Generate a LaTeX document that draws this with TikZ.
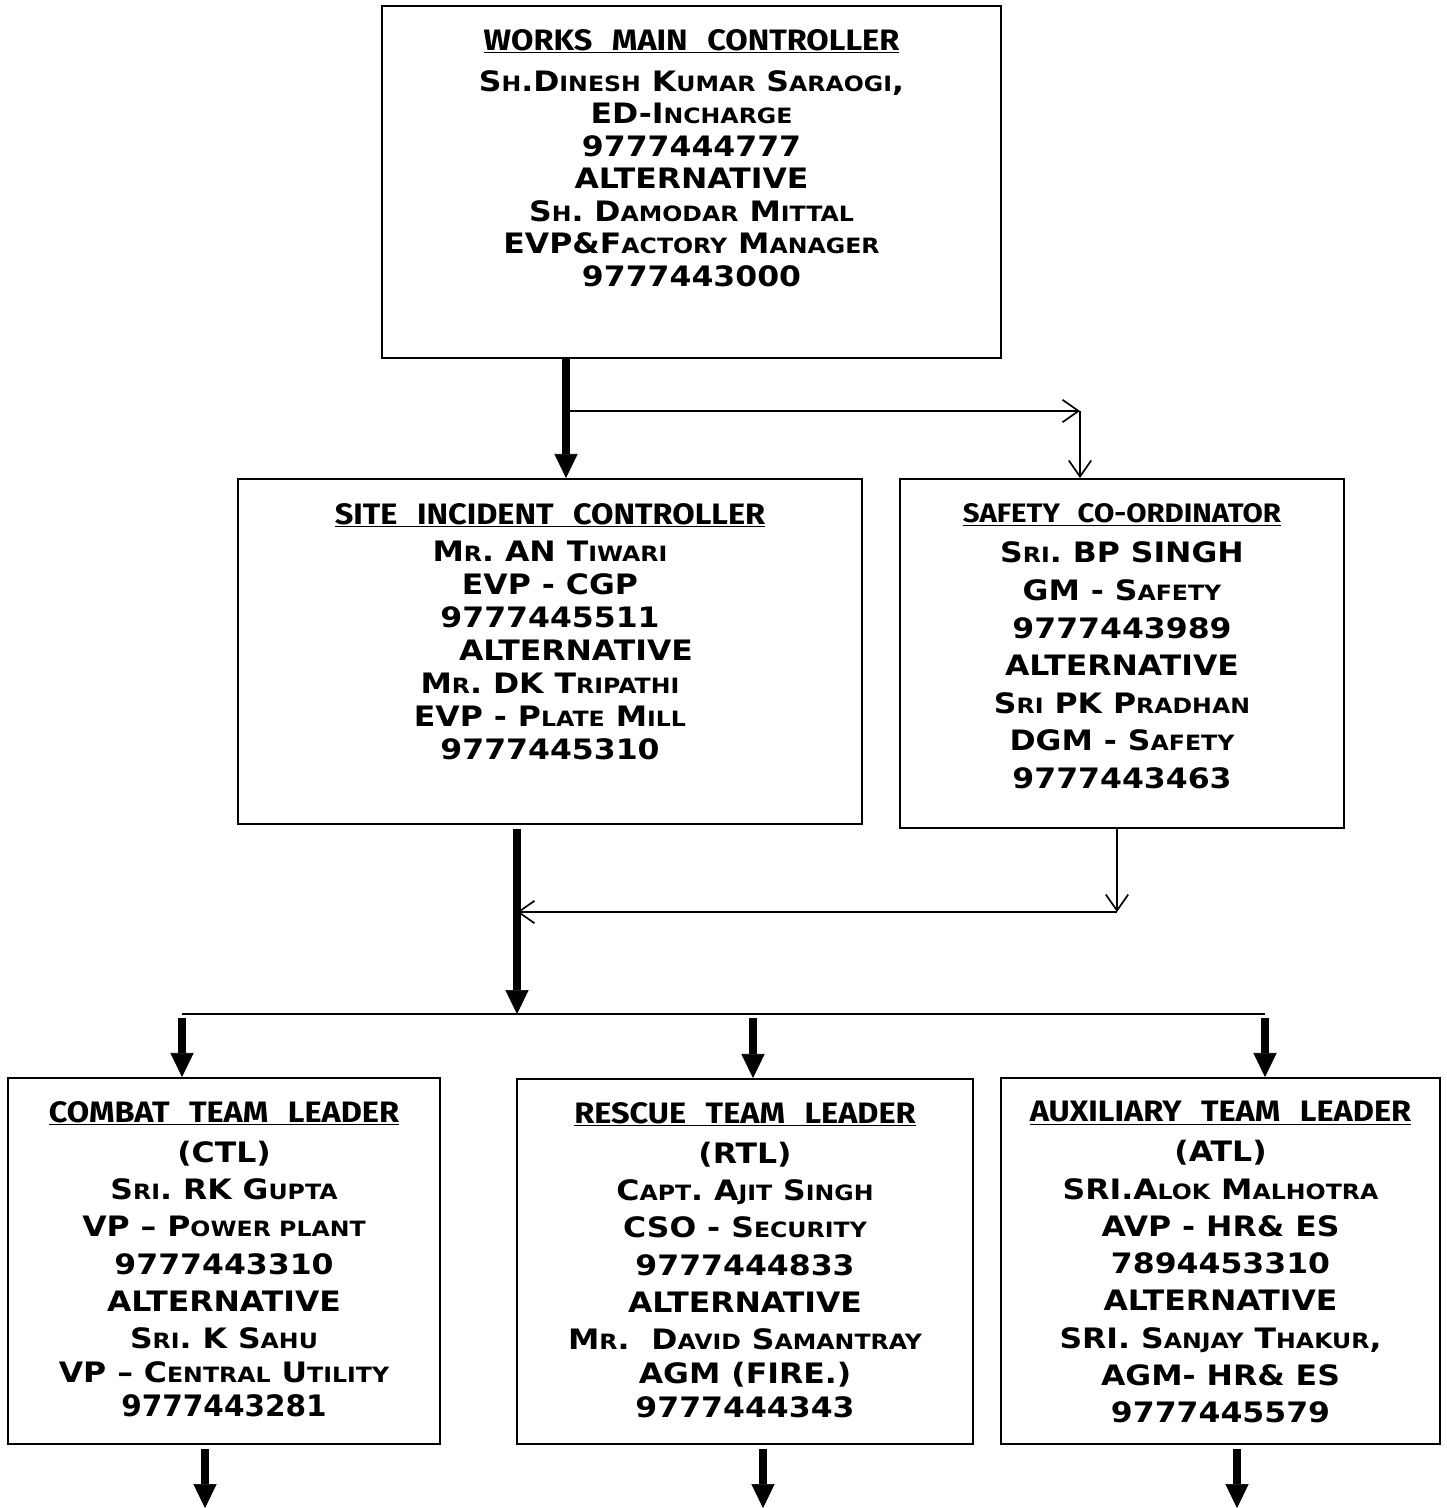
\documentclass[tikz,border=0pt]{standalone}
\usepackage{fontspec}
\setmainfont{DejaVu Sans}
\newfontfamily\copfont{DejaVu Sans}[FakeStretch=1.12]
\newfontfamily\plainfont{DejaVu Sans}
\newfontfamily\ttlfont{Fira Sans}[FakeStretch=1.1]
\usetikzlibrary{arrows.meta}
\usetikzlibrary{positioning}
\newcommand\smc[1]{{\fontsize{15}{18}\selectfont #1}}
\newcommand\phone[1]{{#1}}
\newcommand\ttl[2]{{\ttlfont\bfseries\fontsize{#1}{#1}\selectfont\underline{#2}}}

\begin{document}
\begin{tikzpicture}[x=0.025cm, y=-0.025cm,
  box/.style={draw, line width=1.4pt, inner sep=0pt},
  info/.style={align=center, inner sep=0pt, font=\copfont\bfseries\fontsize{20}{#1}\selectfont},
  bigarrow/.style={line width=0.2cm, -{Triangle[width=0.58cm, length=0.6cm, line width=0.4pt]}},
  smallarrow/.style={line width=1.2pt, -{Straight Barb[length=0.4cm, width=0.56cm, line width=1.2pt]}}]
  \useasboundingbox (0,0) rectangle (1447,1508);

  \node [box, minimum width=15.475cm, minimum height=8.8cm] (wmc) at (691.5,182) {};
  \node [box, minimum width=15.6cm, minimum height=8.625cm] (sic) at (550,651.5) {};
  \node [box, minimum width=11.1cm, minimum height=8.725cm] (sfc) at (1122,653.5) {};
  \node [box, minimum width=10.8cm, minimum height=9.15cm] (ctl) at (224,1261) {};
  \node [box, minimum width=11.4cm, minimum height=9.125cm] (rtl) at (745,1261.5) {};
  \node [box, minimum width=10.975cm, minimum height=9.15cm] (atl) at (1220.5,1261) {};

  \node [info=23.1pt, below=0.6cm of wmc.north] (wmc text) {\ttl{21}{WORKS\hspace{0.4em} MAIN\hspace{0.4em} CONTROLLER}\\[6pt]
    S\smc{H}.D\smc{INESH} K\smc{UMAR} S\smc{ARAOGI},\\
    ED-I\smc{NCHARGE}\\
    \phone{9777444777}\\
    ALTERNATIVE\\
    S\smc{H}. D\smc{AMODAR} M\smc{ITTAL}\\
    EVP\&F\smc{ACTORY} M\smc{ANAGER}\\
    \phone{9777443000}};
  \node [info=23.5pt, below=0.62cm of sic.north] (sic text) {\ttl{21}{SITE\hspace{0.4em} INCIDENT\hspace{0.4em} CONTROLLER}\\[3pt]
    M\smc{R}. AN T\smc{IWARI}\\
    EVP - CGP\\
    \phone{9777445511}\\
    \hspace*{37pt}ALTERNATIVE\\
    M\smc{R}. DK T\smc{RIPATHI}\\
    EVP - P\smc{LATE} M\smc{ILL}\\
    \phone{9777445310}};
  \node [info=26.7pt, below=0.64cm of sfc.north] (sfc text) {\ttl{19}{SAFETY\hspace{0.4em} CO-ORDINATOR}\\[1.8pt]
    S\smc{RI}. BP SINGH\\
    GM - S\smc{AFETY}\\
    \phone{9777443989}\\
    ALTERNATIVE\\
    S\smc{RI} PK P\smc{RADHAN}\\
    DGM - S\smc{AFETY}\\
    \phone{9777443463}};
  \node [info=26.5pt, below=0.6cm of ctl.north] (ctl text) {\ttl{21}{COMBAT\hspace{0.4em} TEAM\hspace{0.4em} LEADER}\\[2pt]
    (CTL)\\
    S\smc{RI}. RK G\smc{UPTA}\\
    VP – P\smc{OWER PLANT}\\
    \phone{9777443310}\\
    ALTERNATIVE\\
    S\smc{RI}. K S\smc{AHU}\\[-2.5pt]
    VP – C\smc{ENTRAL} U\smc{TILITY}\\[-2.5pt]
    {\plainfont\bfseries\fontsize{21}{21}\selectfont 9777443281}};
  \node [info=26.5pt, below=0.6cm of rtl.north] (rtl text) {\ttl{21}{RESCUE\hspace{0.4em} TEAM\hspace{0.4em} LEADER}\\[2pt]
    (RTL)\\
    C\smc{APT}. A\smc{JIT} S\smc{INGH}\\
    CSO - S\smc{ECURITY}\\
    \phone{9777444833}\\
    ALTERNATIVE\\
    M\smc{R}.\ \ D\smc{AVID} S\smc{AMANTRAY}\\[-2.5pt]
    AGM (FIRE.)\\[-2.5pt]
    \phone{9777444343}};
  \node [info=26.5pt, below=0.6cm of atl.north] (atl text) {\ttl{21}{AUXILIARY\hspace{0.4em} TEAM\hspace{0.4em} LEADER}\\[2pt]
    (ATL)\\
    SRI.A\smc{LOK} M\smc{ALHOTRA}\\
    AVP - HR\& ES\\
    \phone{7894453310}\\
    ALTERNATIVE\\
    SRI. S\smc{ANJAY} T\smc{HAKUR},\\
    AGM- HR\& ES\\
    \phone{9777445579}};

  \coordinate (trunk) at (566,0);
  \coordinate (fork) at (1080,411);
  \coordinate (bus) at (517,1014);
  \coordinate (ret) at (1117,912);
  \coordinate (bl) at (182,1014);
  \coordinate (bm) at (753,1014);
  \coordinate (br) at (1265,1014);
  \coordinate (ctl-out) at (205,1508);
  \coordinate (rtl-out) at (763,1508);
  \coordinate (atl-out) at (1237,1508);

  \draw [bigarrow] (trunk |- wmc.south) -- (trunk |- sic.north);
  \draw [smallarrow] (trunk |- fork) -- (fork);
  \draw [smallarrow] (fork) -- (fork |- sfc.north);
  \draw [bigarrow] ([yshift=-0.1cm]bus |- sic.south) -- (bus);
  \draw [smallarrow] (ret |- sfc.south) -- (ret);
  \draw [smallarrow] (ret) -- (bus |- ret);
  \draw [line width=1.4pt] (bl) -- (br);
  \foreach \c/\n in {bl/ctl, bm/rtl, br/atl}
    \draw [bigarrow] ([yshift=-0.1cm]\c) -- (\c |- \n.north);
  \foreach \n in {ctl, rtl, atl}
    \draw [bigarrow] ([yshift=-0.1cm]\n-out |- \n.south) -- (\n-out);
\end{tikzpicture}
\end{document}
